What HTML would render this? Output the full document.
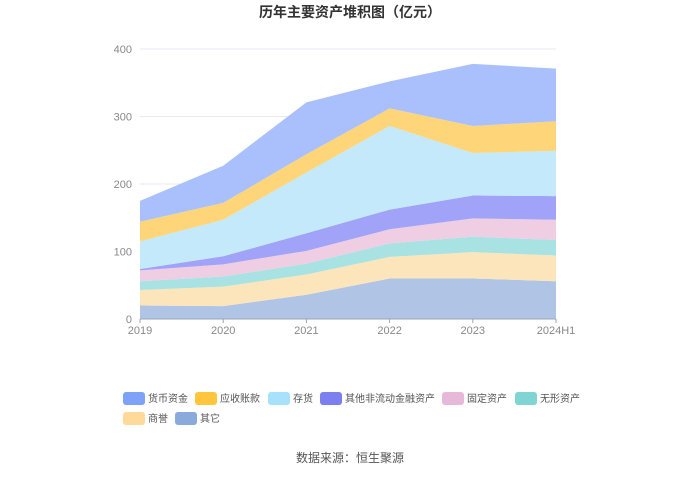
<!DOCTYPE html>
<html><head><meta charset="utf-8"><style>
body{margin:0;background:#fff;font-family:"Liberation Sans","Noto Sans CJK SC",sans-serif}
svg text{font-family:"Liberation Sans","Noto Sans CJK SC",sans-serif}
</style></head><body>
<svg id="c" width="700" height="474">
<text x="350" y="17" text-anchor="middle" font-size="14" font-weight="bold" fill="#333">历年主要资产堆积图（亿元）</text>
<g id="grid"></g><g id="areas"></g><g id="axes"></g><g id="legend"></g>
<text x="350" y="462" text-anchor="middle" font-size="12" fill="#555">数据来源：恒生聚源</text>
</svg>
<script>
const categories=["2019","2020","2021","2022","2023","2024H1"];
const seriesNames=["其它","商誉","无形资产","固定资产","其他非流动金融资产","存货","应收账款","货币资金"];
const other=[20,19,36,60,60,56];
const goodwill=[23,29,30,32,39,38];
const intangible=[13,15,16,20,23,23];
const fixedAssets=[16,18,19,21,27,30];
const otherNonCurrent=[2,12,26,29,34,35];
const inventory=[41,54,90,124,63,67];
const receivables=[29,25,27,26,40,44];
const cash=[31,55,77,40,92,78];
const yTicks=[0,100,200,300,400];
const series=[other,goodwill,intangible,fixedAssets,otherNonCurrent,inventory,receivables,cash];
const fills=["#b0c4e6","#fde5bb","#a9e2e2","#efcde3","#a0a3f7","#c3e9fb","#fed679","#aac0fd"];
const swatch=["#8aaadc","#ffd998","#80d4d4","#e8b8d8","#7b7ff0","#a8e1fb","#ffc53d","#7fa2f9"];
const NS="http://www.w3.org/2000/svg";
const x0=140,x1=556,yb=319,yt=49;
const X=i=>x0+(x1-x0)*i/(categories.length-1);
const Y=v=>yb-(yb-yt)*v/400;
function mk(t,a,p){const e=document.createElementNS(NS,t);for(const k in a)e.setAttribute(k,a[k]);p.appendChild(e);return e;}
const grid=document.getElementById('grid'),axes=document.getElementById('axes'),areas=document.getElementById('areas'),legend=document.getElementById('legend');
yTicks.forEach(v=>{
 const l=mk('line',{x1:x0,x2:x1,y1:Y(v),y2:Y(v),stroke:'#e6e9f0'},grid);
 
 
 const t=mk('text',{x:x0-8,y:Y(v)+4,'text-anchor':'end','font-size':11,fill:'#888'},axes);t.textContent=v;
 
 
});
let cum=categories.map(()=>0);
series.forEach((s,k)=>{
 const lo=cum.slice();cum=cum.map((c,i)=>c+s[i]);
 let d='M'+categories.map((_,i)=>X(i)+','+Y(cum[i])).join('L');
 for(let i=categories.length-1;i>=0;i--)d+='L'+X(i)+','+Y(lo[i]);
 const p=mk('path',{d:d+'Z',fill:fills[k]},areas);
 
 
});
const ax=mk('line',{x1:x0,x2:x1,y1:yb,y2:yb,stroke:'#9aa5b8'},axes);


categories.forEach((c,i)=>{
 mk('line',{x1:X(i),x2:X(i),y1:yb,y2:yb+4,stroke:'#9aa5b8'},axes);
 const t=mk('text',{x:X(i),y:yb+15,'text-anchor':'middle','font-size':11,fill:'#888'},axes);t.textContent=c;
 
 
});
const legPos=[[175,418],[123,418],[515,398],[442,398],[320,398],[268,398],[195,398],[123,398]];
seriesNames.forEach((n,k)=>{
 const g=mk('g',{},legend);
 
 
 const [lx,ly]=legPos[k];
 mk('rect',{x:lx,y:ly-6,width:22,height:13,rx:3,fill:swatch[k]},g);
 const t=mk('text',{x:lx+25,y:ly+4,'font-size':10,fill:'#555'},g);t.textContent=n;
});
</script>
</body></html>
